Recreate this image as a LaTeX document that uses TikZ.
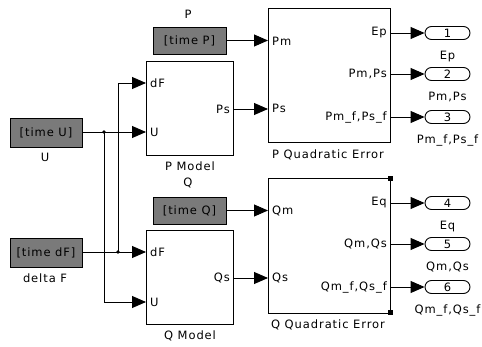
\documentclass[tikz,border=0pt]{standalone}
\usepackage{fontspec}
\setmainfont{DejaVu Sans}[LetterSpace=8]
\usetikzlibrary{arrows.meta}
\tikzset{
  wire/.style={line width=0.9pt},
  arr/.style={wire,-{Triangle[length=14pt,width=12pt]}},
  fromblk/.style={draw,line width=0.9pt,fill=black!52,inner sep=0pt,font=\fontsize{11.5}{12}\selectfont},
  subsys/.style={draw,line width=0.9pt,fill=white,inner sep=0pt},
  outport/.style={draw,line width=0.9pt,rounded corners=6.5pt,minimum width=45pt,minimum height=13pt,inner sep=0pt,font=\fontsize{11.5}{12}\selectfont},
  lbl/.style={inner sep=0pt,font=\fontsize{11.5}{12}\selectfont},
  handle/.style={fill=black,minimum size=5pt,inner sep=0pt},
}
\begin{document}
\begin{tikzpicture}[x=1pt,y=-1pt]
\useasboundingbox (0,0) rectangle (482,347);
% source blocks
\node[fromblk,minimum width=73pt,minimum height=27pt] (tP) at (189.5,40.5) {[time P]};
\node[fromblk,minimum width=72pt,minimum height=29pt] (tU) at (46,132.5) {[time U]};
\node[fromblk,minimum width=72pt,minimum height=29pt] (tdF) at (46,252.5) {[time dF]};
\node[fromblk,minimum width=73pt,minimum height=27pt] (tQ) at (189.5,210.5) {[time Q]};
\node[lbl] (lP) at (188,14) {P};
\node[lbl] (lU) at (45,157) {U};
\node[lbl] (ldF) at (45,278) {delta F};
\node[lbl] (lQ) at (188,183) {Q};
% subsystems
\node[subsys,minimum width=87pt,minimum height=94pt] (PM) at (189.5,108) {};
\node[subsys,minimum width=87pt,minimum height=94pt] (QM) at (189.5,277) {};
\node[subsys,minimum width=122pt,minimum height=134pt] (PQE) at (329,75) {};
\node[subsys,minimum width=122pt,minimum height=135pt] (QQE) at (329,245.5) {};
\node[lbl] (lPM) at (190,166) {P Model};
\node[lbl] (lQM) at (190,336) {Q Model};
\node[lbl] (lPQE) at (328,155) {P Quadratic Error};
\node[lbl] (lQQE) at (328,325) {Q Quadratic Error};
\node[handle] (h1) at (390.5,178.5) {};
\node[handle] (h2) at (390.5,312.5) {};
% port coordinates
\coordinate (PMdF) at (146,83);
\coordinate (PMU) at (146,132);
\coordinate (PMPs) at (233,109);
\coordinate (QMdF) at (146,252);
\coordinate (QMU) at (146,302);
\coordinate (QMQs) at (233,278);
\coordinate (PQEPm) at (268,40.5);
\coordinate (PQEPs) at (268,109);
\coordinate (QQEQm) at (268,210.5);
\coordinate (QQEQs) at (268,278);
% port labels
\node[lbl,anchor=west] (a1) at (150,83) {dF};
\node[lbl,anchor=west] (a2) at (150,132) {U};
\node[lbl,anchor=east] (a3) at (230,109) {Ps};
\node[lbl,anchor=west] (a4) at (150,252) {dF};
\node[lbl,anchor=west] (a5) at (150,302) {U};
\node[lbl,anchor=east] (a6) at (230,278) {Qs};
\node[lbl,anchor=west] (b1) at (272,41) {Pm};
\node[lbl,anchor=west] (b2) at (272,108) {Ps};
\node[lbl,anchor=east] (b3) at (387,33) {Ep};
\node[lbl,anchor=east] (b4) at (387,74) {Pm,Ps};
\node[lbl,anchor=east] (b5) at (387,117) {Pm\_f,Ps\_f};
\node[lbl,anchor=west] (c1) at (272,211) {Qm};
\node[lbl,anchor=west] (c2) at (272,278) {Qs};
\node[lbl,anchor=east] (c3) at (387,203) {Eq};
\node[lbl,anchor=east] (c4) at (387,244) {Qm,Qs};
\node[lbl,anchor=east] (c5) at (387,287) {Qm\_f,Qs\_f};
% outports
\node[outport] (o1) at (447.5,33) {1};
\node[outport] (o2) at (447.5,74) {2};
\node[outport] (o3) at (447.5,117) {3};
\node[outport] (o4) at (447.5,203) {4};
\node[outport] (o5) at (447.5,244) {5};
\node[outport] (o6) at (447.5,287) {6};
\node[lbl] (n1) at (447.5,57) {Ep};
\node[lbl] (n2) at (447.5,97) {Pm,Ps};
\node[lbl] (n3) at (447.5,140) {Pm\_f,Ps\_f};
\node[lbl] (n4) at (447.5,227) {Eq};
\node[lbl] (n5) at (447.5,267) {Qm,Qs};
\node[lbl] (n6) at (447.5,310) {Qm\_f,Qs\_f};
% junctions
\coordinate (jU) at (104,132);
\coordinate (jdF) at (118,252);
\fill (jU) circle (1.8pt);
\fill (jdF) circle (1.8pt);
% wires
\draw[arr] (tU.east |- PMU) -- (PMU);
\draw[arr] (jU) -- (jU |- QMU) -- (QMU);
\draw[arr] (tdF.east |- QMdF) -- (QMdF);
\draw[arr] (jdF) -- (jdF |- PMdF) -- (PMdF);
\draw[arr] (tP.east) -- (PQEPm);
\draw[arr] (tQ.east) -- (QQEQm);
\draw[arr] (PMPs) -- (PQEPs);
\draw[arr] (QMQs) -- (QQEQs);
\draw[arr] (PQE.east |- o1) -- (o1.west);
\draw[arr] (PQE.east |- o2) -- (o2.west);
\draw[arr] (PQE.east |- o3) -- (o3.west);
\draw[arr] (QQE.east |- o4) -- (o4.west);
\draw[arr] (QQE.east |- o5) -- (o5.west);
\draw[arr] (QQE.east |- o6) -- (o6.west);
\end{tikzpicture}
\end{document}
